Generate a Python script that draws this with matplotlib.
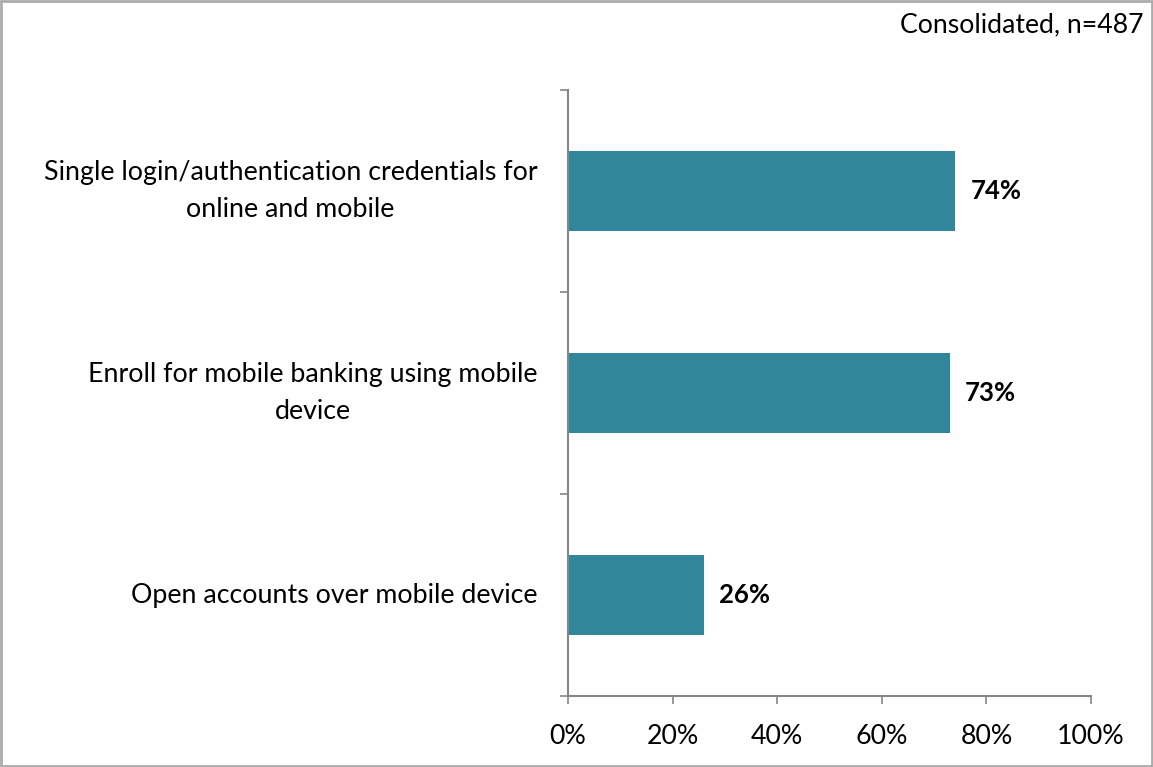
import matplotlib
matplotlib.use("Agg")
import matplotlib.pyplot as plt
from matplotlib.patches import Rectangle

categories = [
    "Single login/authentication credentials for\nonline and mobile",
    "Enroll for mobile banking using mobile\ndevice",
    "Open accounts over mobile device",
]
values = [74, 73, 26]
value_labels = ["74%", "73%", "26%"]
x_ticks = [0, 20, 40, 60, 80, 100]
x_tick_labels = ["0%", "20%", "40%", "60%", "80%", "100%"]
note = "Consolidated, n=487"

bar_color = "#31869B"
axis_color = "#868686"

plt.rcParams["font.family"] = ["Lato", "DejaVu Sans"]

fig = plt.figure(figsize=(11.53, 7.67), dpi=100)
ax = fig.add_axes([568 / 1153, 1 - 696 / 767, 523 / 1153, 606 / 767])

n = len(categories)
positions = list(range(n))
ax.barh(positions, values, height=0.4, color=bar_color, edgecolor="none")
ax.set_xlim(0, 100)
ax.set_ylim(n - 0.5, -0.5)

for y, v, lab in zip(positions, values, value_labels):
    ax.annotate(lab, xy=(v, y), xytext=(11, 0), textcoords="offset points",
                ha="left", va="center", fontsize=18.5, fontweight="bold",
                color="black")

# category labels placed left of the axis with centered line alignment
ax.set_yticks([])
for y, cat in zip(positions, categories):
    ax.annotate(cat, xy=(0, y), xytext=(-22, 0), textcoords="offset points",
                ha="right", va="center", multialignment="center",
                fontsize=19.3, color="black", linespacing=1.6)

# minor ticks on the category axis at the boundaries between bars
ax.set_yticks([i - 0.5 for i in range(n + 1)], minor=True)
ax.tick_params(axis="y", which="minor", length=6, width=1.2, color=axis_color,
               direction="out", labelleft=False)

ax.set_xticks(x_ticks)
ax.set_xticklabels(x_tick_labels, fontsize=19.3)
ax.tick_params(axis="x", length=6, width=1.2, color=axis_color, pad=14)

for side in ["top", "right"]:
    ax.spines[side].set_visible(False)
for side in ["left", "bottom"]:
    ax.spines[side].set_color(axis_color)
    ax.spines[side].set_linewidth(1.5)

fig.text(1143 / 1153, 1 - 25 / 767, note, ha="right", va="center",
         fontsize=19.2, color="black")

# chart frame
fig.patches.append(Rectangle((0.001, 0.001), 0.998, 0.998, transform=fig.transFigure,
                             fill=False, edgecolor="#ABABAB", linewidth=2))

fig.savefig("out.png", dpi=100, facecolor="white")
